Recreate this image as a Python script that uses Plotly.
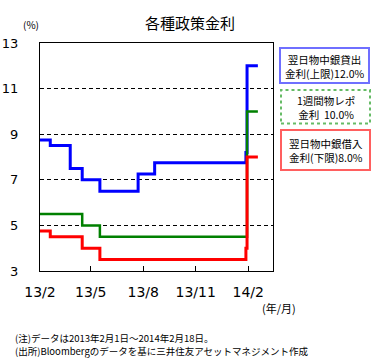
import plotly.graph_objects as go

# ---- data ----
upper_dates = ["2013-02-01", "2013-02-19", "2013-03-26", "2013-04-16", "2013-05-17",
               "2013-07-23", "2013-08-21", "2014-01-28", "2014-01-30", "2014-02-18"]
upper_vals = [8.75, 8.5, 7.5, 7.0, 6.5, 7.25, 7.75, 8.2, 12.0, 12.0]

repo_dates = ["2013-02-01", "2013-04-16", "2013-05-17", "2014-01-30", "2014-02-18"]
repo_vals = [5.5, 5.0, 4.5, 10.0, 10.0]

lower_dates = ["2013-02-01", "2013-02-19", "2013-04-16", "2013-05-17",
               "2014-01-28", "2014-01-30", "2014-02-18"]
lower_vals = [4.75, 4.5, 4.0, 3.5, 4.0, 8.0, 8.0]

x_tickvals = ["2013-02-01", "2013-05-01", "2013-08-01", "2013-11-01", "2014-02-01"]
x_ticktext = ["13/2", "13/5", "13/8", "13/11", "14/2"]
y_tickvals = [3, 5, 7, 9, 11, 13]
y_ticktext = ["3", "5", "7", "9", "11", "13"]

title_text = "各種政策金利"
unit_text = "(%)"
xunit_text = "(年/月)"
note_lines = ["(注)データは2013年2月1日～2014年2月18日。",
              "(出所)Bloombergのデータを基に三井住友アセットマネジメント作成"]
legend_boxes = [
    (["翌日物中銀貸出", "金利(上限)12.0%"], "#6f6fff", "solid"),
    (["1週間物レポ", "金利  10.0%"], "#66bb66", "dot"),
    (["翌日物中銀借入", "金利(下限)8.0%"], "#ff5f5f", "solid"),
]

# ---- layout geometry (pixels) ----
W, H = 378, 361
L, R, T, B = 40, 105, 43, 90
PW, PH = W - L - R, H - T - B


def px2x(px):
    return (px - L) / PW


def px2y(py):
    return (H - B - py) / PH


CJK = "Noto Sans CJK JP"
LAT = "DejaVu Sans"

fig = go.Figure()
fig.add_trace(go.Scatter(x=upper_dates, y=upper_vals, mode="lines", line_shape="hv",
                         line=dict(color="#0000ff", width=3), showlegend=False,
                         hoverinfo="skip"))
fig.add_trace(go.Scatter(x=repo_dates, y=repo_vals, mode="lines", line_shape="hv",
                         line=dict(color="#008000", width=2.5), showlegend=False,
                         hoverinfo="skip"))
fig.add_trace(go.Scatter(x=lower_dates, y=lower_vals, mode="lines", line_shape="hv",
                         line=dict(color="#ff0000", width=3), showlegend=False,
                         hoverinfo="skip"))

shapes = []
annotations = []
box_px = [((280, 369), (48, 83)),
          ((281, 370), (90, 123.5)),
          ((281, 370), (130, 170))]
for (lines, col, dash), ((x0, x1), (y0, y1)) in zip(legend_boxes, box_px):
    shapes.append(dict(type="rect", xref="paper", yref="paper",
                       x0=px2x(x0), x1=px2x(x1), y0=px2y(y1), y1=px2y(y0),
                       line=dict(color=col, width=2, dash=dash),
                       fillcolor="white", layer="below"))
    annotations.append(dict(text="<br>".join(lines), xref="paper", yref="paper",
                            x=px2x((x0 + x1) / 2), y=px2y((y0 + y1) / 2 + 0.5),
                            xanchor="center", yanchor="middle", align="center",
                            showarrow=False, borderpad=0,
                            font=dict(family=CJK, size=10.5, color="black")))

annotations.append(dict(text=title_text, xref="paper", yref="paper",
                        x=px2x(190), y=px2y(22.5), xanchor="center", yanchor="middle",
                        showarrow=False, font=dict(family=CJK, size=15, color="black")))
annotations.append(dict(text=unit_text, xref="paper", yref="paper",
                        x=px2x(31), y=px2y(24), xanchor="center", yanchor="middle",
                        showarrow=False, font=dict(family=CJK, size=10, color="black")))
annotations.append(dict(text=xunit_text, xref="paper", yref="paper",
                        x=px2x(278.5), y=px2y(308), xanchor="center", yanchor="middle",
                        showarrow=False, font=dict(family=CJK, size=11, color="black")))
for txt, yy in zip(note_lines, [337.5, 351]):
    annotations.append(dict(text=txt, xref="paper", yref="paper",
                            x=px2x(14), y=px2y(yy), xanchor="left", yanchor="middle",
                            showarrow=False, borderpad=0,
                            font=dict(family=CJK, size=9.5, color="black")))

fig.update_layout(
    width=W, height=H,
    margin=dict(l=L, r=R, t=T, b=B, pad=0, autoexpand=False),
    paper_bgcolor="white", plot_bgcolor="white",
    font=dict(family=CJK, color="black"),
    shapes=shapes, annotations=annotations,
    hovermode=False,
    xaxis=dict(type="date", range=["2013-02-01", "2014-03-16 12:00"],
               tickmode="array", tickvals=x_tickvals, ticktext=x_ticktext,
               ticks="inside", ticklen=5, tickwidth=1, tickcolor="black",
               showgrid=False, zeroline=False, automargin=False,
               showline=True, mirror=True, linecolor="black", linewidth=1,
               tickfont=dict(family=LAT, size=14, color="black"),
               ticklabelstandoff=8),
    yaxis=dict(range=[3, 13], tickmode="array", tickvals=y_tickvals, ticktext=y_ticktext,
               ticks="", showgrid=True, gridcolor="black", gridwidth=1, griddash="4px,3px",
               zeroline=False, automargin=False,
               showline=True, mirror=True, linecolor="black", linewidth=1,
               tickfont=dict(family=LAT, size=13, color="black"),
               ticklabelstandoff=18),
)

fig.write_html("out.html", config={"displayModeBar": False},
               post_script="document.body.style.margin='0';document.body.style.overflow='hidden';")
